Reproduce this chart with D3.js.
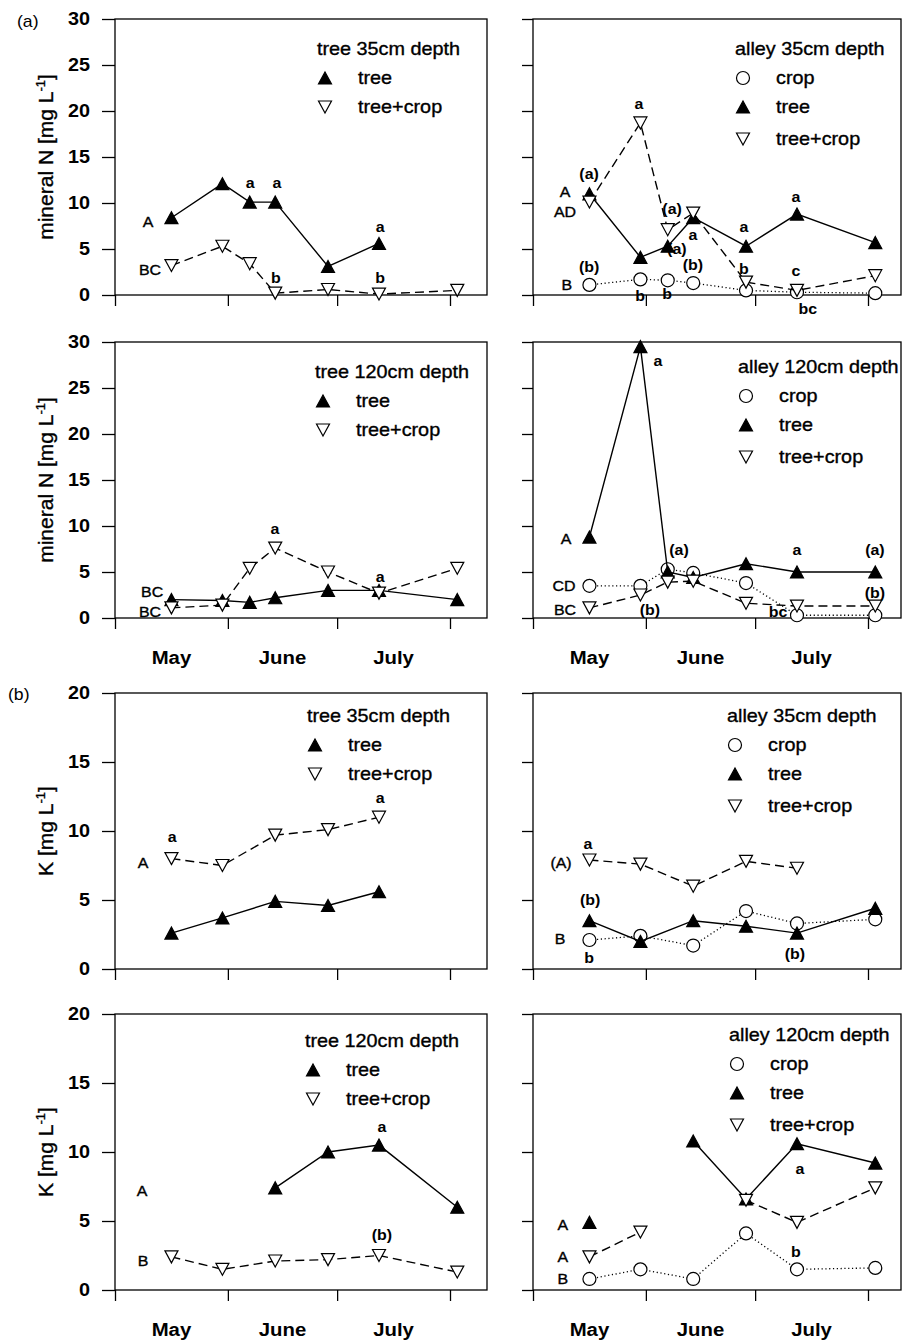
<!DOCTYPE html>
<html>
<head>
<meta charset="utf-8">
<script src="https://cdn.jsdelivr.net/npm/d3@7"></script>
<style>
  body { margin: 0; background: #fff; }
  svg { display: block; }
  text { font-family: "Liberation Sans", Arial, sans-serif; fill: #000; }
  text.heavy { stroke: #000; stroke-width: 0.35px; }
</style>
</head>
<body>
<svg id="chart" width="902" height="1344"></svg>
<script>
// x values are days counted from 1 May
const monthStarts = [0, 31, 61, 92];
const monthNames = ["May", "June", "July"];
const monthMids = [15.5, 46, 76.5];

const nDays = [15.5, 29.5, 37, 44, 58.5, 72.5, 94];
const kDays = [15.5, 29.5, 44, 58.5, 72.5, 94];

const nTicks = [0, 5, 10, 15, 20, 25, 30];
const kTicks = [0, 5, 10, 15, 20];

// (a) mineral N [mg L-1]
const nTree35Tree      = [8.4, 12.1, 10.1, 10.1, 3.1, 5.6, null];
const nTree35TreeCrop  = [3.2, 5.3, 3.4, 0.2, 0.6, 0.1, 0.5];
const nAlley35Crop     = [1.1, 1.7, 1.6, 1.3, 0.5, 0.3, 0.2];
const nAlley35Tree     = [11.0, 4.1, 5.3, 8.4, 5.3, 8.8, 5.7];
const nAlley35TreeCrop = [10.1, 18.7, 7.1, 8.9, 1.4, 0.5, 2.1];
const nTree120Tree     = [2.0, 1.9, 1.7, 2.2, 3.0, 3.0, 2.0];
const nTree120TreeCrop = [1.1, 1.4, 5.4, 7.6, 5.0, 2.7, 5.4];
const nAlley120Crop    = [3.5, 3.5, 5.3, 4.9, 3.8, 0.3, 0.3];
const nAlley120Tree    = [8.8, 29.5, 5.0, 4.4, 5.9, 5.0, 5.0];
const nAlley120TreeCrop= [1.1, 2.5, 3.9, 4.0, 1.6, 1.3, 1.3];

// (b) K [mg L-1]
const kTree35Tree      = [2.6, 3.7, 4.9, 4.6, 5.6, null];
const kTree35TreeCrop  = [8.0, 7.5, 9.7, 10.1, 11.0, null];
const kAlley35Crop     = [2.1, 2.4, 1.7, 4.2, 3.3, 3.6];
const kAlley35Tree     = [3.5, 2.0, 3.5, 3.1, 2.6, 4.4];
const kAlley35TreeCrop = [7.9, 7.6, 6.0, 7.8, 7.3, null];
const kTree120Tree     = [null, null, 7.4, 10.0, 10.5, 6.0];
const kTree120TreeCrop = [2.4, 1.5, 2.1, 2.2, 2.5, 1.3];
const kAlley120Crop    = [0.8, 1.5, 0.8, 4.1, 1.5, 1.6];
const kAlley120Tree    = [4.9, null, 10.8, 6.6, 10.6, 9.2];
const kAlley120TreeCrop= [2.4, 4.2, null, 6.5, 4.9, 7.4];

// significance letters: [text, day, value]
const notesNTree35 = [["A", 9.1, 8.0], ["BC", 9.6, 2.7], ["a", 37.1, 12.2], ["a", 44.5, 12.2],
  ["b", 44.2, 1.9], ["a", 72.8, 7.4], ["b", 72.8, 1.9]];
const notesNAlley35 = [["a", 29.1, 20.8], ["(a)", 15.4, 13.2], ["A", 8.8, 11.2], ["AD", 8.8, 9.0],
  ["(a)", 38.2, 9.4], ["a", 43.9, 6.6], ["(a)", 39.5, 5.0], ["a", 57.9, 7.4], ["a", 72.2, 10.7],
  ["(b)", 15.4, 3.1], ["B", 9.3, 1.1], ["b", 29.4, -0.1], ["b", 36.8, 0.1], ["(b)", 43.9, 3.25],
  ["b", 57.9, 2.9], ["c", 72.2, 2.6], ["bc", 75.5, -1.5]];
const notesNTree120 = [["BC", 10.2, 2.8], ["BC", 9.6, 0.65], ["a", 43.9, 9.7], ["a", 72.8, 4.5]];
const notesNAlley120 = [["a", 34.3, 28.0], ["A", 9.1, 8.6], ["(a)", 40.1, 7.4], ["a", 72.5, 7.4],
  ["(a)", 93.9, 7.4], ["CD", 8.5, 3.5], ["(b)", 93.9, 2.7], ["BC", 8.8, 0.9], ["(b)", 32.1, 0.9],
  ["bc", 67.3, 0.65]];
const notesKTree35 = [["a", 15.7, 9.6], ["A", 7.7, 7.7], ["a", 72.8, 12.4]];
const notesKAlley35 = [["a", 15.1, 9.1], ["(A)", 7.7, 7.7], ["(b)", 15.7, 5.0], ["B", 7.4, 2.2],
  ["b", 15.4, 0.8], ["(b)", 71.9, 1.1]];
const notesKTree120 = [["A", 7.4, 7.2], ["B", 7.7, 2.1], ["a", 73.3, 11.8], ["(b)", 73.3, 4.0]];
const notesKAlley120 = [["A", 8.2, 4.7], ["A", 8.2, 2.4], ["B", 8.2, 0.8], ["a", 73.3, 8.8], ["b", 72.2, 2.75]];

// layout
const colLeft = [115, 533];
const colRight = [487, 901];
const rowTop = [19, 342, 693, 1014];
const plotH = 276;
const SX = 1.1; // scanned text runs a bit wide

const styles = {
  crop:     { name: "crop",      shape: "circle", fill: "#fff", dash: "1.2,2.6" },
  tree:     { name: "tree",      shape: "up",     fill: "#000", dash: null },
  treeCrop: { name: "tree+crop", shape: "down",   fill: "#fff", dash: "9,5" }
};

const panels = [
  { row: 0, col: 0, k: false, title: "tree 35cm depth", legend: [202, 36], notes: notesNTree35,
    series: { tree: nTree35Tree, treeCrop: nTree35TreeCrop } },
  { row: 0, col: 1, k: false, title: "alley 35cm depth", legend: [202, 36], notes: notesNAlley35,
    series: { crop: nAlley35Crop, tree: nAlley35Tree, treeCrop: nAlley35TreeCrop } },
  { row: 1, col: 0, k: false, title: "tree 120cm depth", legend: [200, 36], notes: notesNTree120,
    series: { tree: nTree120Tree, treeCrop: nTree120TreeCrop } },
  { row: 1, col: 1, k: false, title: "alley 120cm depth", legend: [205, 31], notes: notesNAlley120,
    series: { crop: nAlley120Crop, tree: nAlley120Tree, treeCrop: nAlley120TreeCrop } },
  { row: 2, col: 0, k: true, title: "tree 35cm depth", legend: [192, 29], notes: notesKTree35,
    series: { tree: kTree35Tree, treeCrop: kTree35TreeCrop } },
  { row: 2, col: 1, k: true, title: "alley 35cm depth", legend: [194, 29], notes: notesKAlley35,
    series: { crop: kAlley35Crop, tree: kAlley35Tree, treeCrop: kAlley35TreeCrop } },
  { row: 3, col: 0, k: true, title: "tree 120cm depth", legend: [190, 33], notes: notesKTree120,
    series: { tree: kTree120Tree, treeCrop: kTree120TreeCrop } },
  { row: 3, col: 1, k: true, title: "alley 120cm depth", legend: [196, 27], notes: notesKAlley120,
    series: { crop: kAlley120Crop, tree: kAlley120Tree, treeCrop: kAlley120TreeCrop } }
];

const svg = d3.select("#chart");

function label(g, x, y, str, size, opts = {}) {
  return g.append("text")
    .attr("class", opts.bold || opts.serif ? null : "heavy")
    .attr("transform", `translate(${x},${y}) scale(${SX},1)`)
    .attr("text-anchor", opts.anchor || "start")
    .attr("dy", opts.dy || null)
    .attr("font-size", size)
    .attr("font-weight", opts.bold ? "bold" : null)
    .attr("font-family", opts.serif ? "'Liberation Serif', 'Times New Roman', serif" : null)
    .text(str);
}

function symbolPath(shape) {
  if (shape === "up") return "M0,-6L6.5,6L-6.5,6Z";
  return "M0,6L6.5,-6L-6.5,-6Z";
}

function drawSymbol(g, x, y, st) {
  if (st.shape === "circle") {
    g.append("circle").attr("cx", x).attr("cy", y).attr("r", 6.5)
      .attr("fill", st.fill).attr("stroke", "#000").attr("stroke-width", 1.2);
  } else {
    g.append("path").attr("d", symbolPath(st.shape))
      .attr("transform", `translate(${x},${y})`)
      .attr("fill", st.fill).attr("stroke", "#000").attr("stroke-width", 1.2);
  }
}

panels.forEach(p => {
  const L = colLeft[p.col], R = colRight[p.col];
  const T = rowTop[p.row], B = T + plotH;
  const days = p.k ? kDays : nDays;
  const ticks = p.k ? kTicks : nTicks;

  const x = d3.scaleLinear().domain([0, 92]).range([L, L + 335]);
  const y = d3.scaleLinear().domain([0, d3.max(ticks)]).range([B, T]);

  const g = svg.append("g");

  // frame
  g.append("rect").attr("x", L).attr("y", T).attr("width", R - L).attr("height", B - T)
    .attr("fill", "none").attr("stroke", "#000").attr("stroke-width", 1.3);

  // y axis
  const yAxis = d3.axisLeft(y).tickValues(ticks).tickSize(p.col === 0 ? 13 : 11).tickFormat("");
  const ya = g.append("g").attr("transform", `translate(${L},0)`).call(yAxis);
  ya.select(".domain").remove();
  ya.selectAll("line").attr("stroke-width", 1.3);
  if (p.col === 0) {
    ticks.forEach(t => label(g, L - 25, y(t), String(t), 18, { anchor: "end", dy: "0.36em", bold: true }));
  }

  // x axis ticks at month starts
  const xAxis = d3.axisBottom(x).tickValues(monthStarts).tickSize(11).tickFormat("");
  const xa = g.append("g").attr("transform", `translate(0,${B})`).call(xAxis);
  xa.select(".domain").remove();
  xa.selectAll("line").attr("stroke-width", 1.3);

  if (p.row === 1 || p.row === 3) {
    monthNames.forEach((m, i) => label(g, x(monthMids[i]), B + 46, m, 18.5, { anchor: "middle", bold: true }));
  }

  // y label
  if (p.col === 0) {
    const yl = g.append("text")
      .attr("class", "heavy")
      .attr("transform", `translate(53,${(T + B) / 2}) rotate(-90)`)
      .attr("text-anchor", "middle")
      .attr("font-size", 21);
    yl.append("tspan").text(p.k ? "K [mg L" : "mineral N [mg L");
    yl.append("tspan").attr("dy", -8).attr("font-size", 13).text("-1");
    yl.append("tspan").attr("dy", 8).text("]");
  }

  // significance letters
  p.notes.forEach(([t, d, v]) => {
    label(g, x(d), y(v), t, 14.5, { anchor: "middle", dy: "0.36em", bold: /[a-z]/.test(t) });
  });

  // series
  ["crop", "tree", "treeCrop"].forEach(key => {
    const vals = p.series[key];
    if (!vals) return;
    const st = styles[key];
    const pts = vals.map((v, i) => ({ d: days[i], v }));
    const line = d3.line().defined(d => d.v != null).x(d => x(d.d)).y(d => y(d.v));
    g.append("path").attr("d", line(pts)).attr("fill", "none")
      .attr("stroke", "#000").attr("stroke-width", key === "crop" ? 1.3 : 1.4)
      .attr("stroke-dasharray", st.dash);
    pts.filter(d => d.v != null).forEach(d => drawSymbol(g, x(d.d), y(d.v), st));
  });

  // legend
  const lx = L + p.legend[0], ly = T + p.legend[1];
  label(g, lx, ly, p.title, 18);
  const keys = ["crop", "tree", "treeCrop"].filter(k => p.series[k]);
  const rowOff = keys.length === 3 ? [23, 52, 84] : [23, 52];
  keys.forEach((k, i) => {
    drawSymbol(g, lx + 8, ly + rowOff[i], styles[k]);
    label(g, lx + 41, ly + rowOff[i] + 6, styles[k].name, 18);
  });
});

// section letters
label(svg, 17, 27, "(a)", 16, { serif: true });
label(svg, 8, 700, "(b)", 16, { serif: true });
</script>
</body>
</html>
